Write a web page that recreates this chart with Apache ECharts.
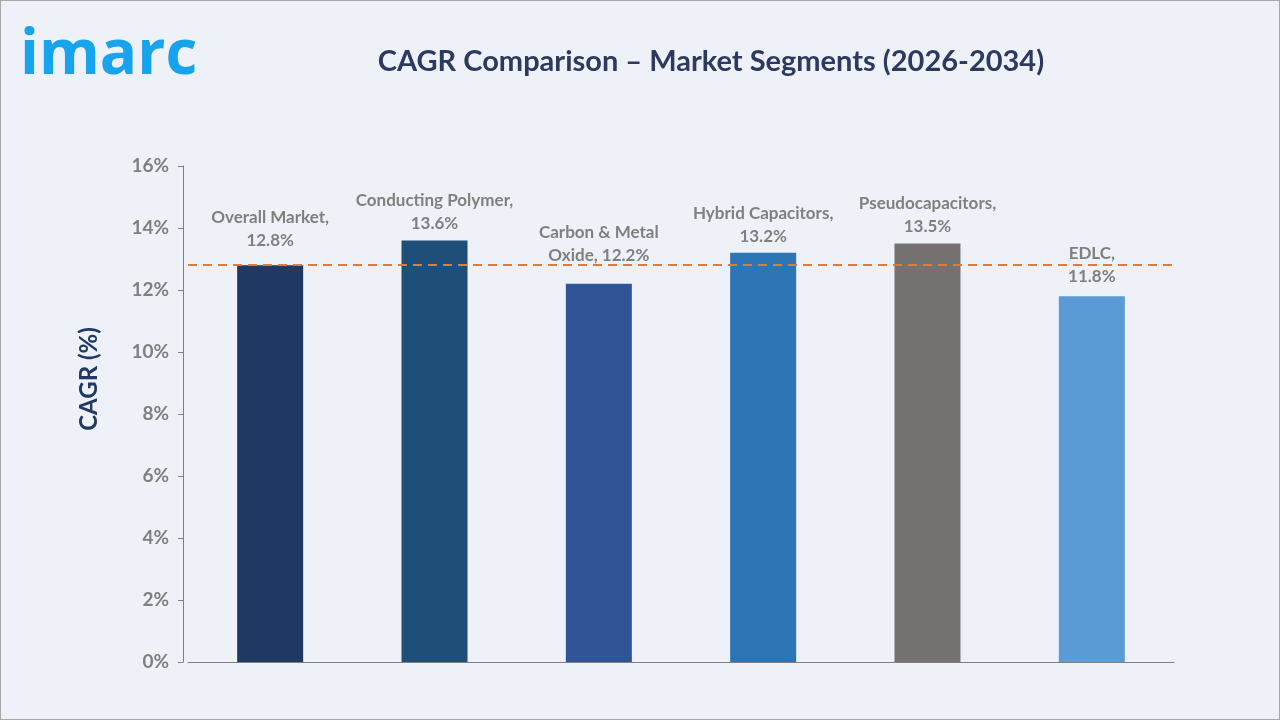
<!DOCTYPE html>
<html>
<head>
<meta charset="utf-8">
<script src="https://cdn.jsdelivr.net/npm/echarts@6/dist/echarts.min.js"></script>
<style>
html,body{margin:0;padding:0;background:#eef2f8;}
#main{width:1278px;height:718px;border:1px solid #a6a6a6;}
</style>
</head>
<body>
<div id="main"></div>
<script>
// data
var categories = ['Overall Market', 'Conducting Polymer', 'Carbon & Metal Oxide', 'Hybrid Capacitors', 'Pseudocapacitors', 'EDLC'];
var labelTexts = ['Overall Market,', 'Conducting Polymer,', 'Carbon & Metal\nOxide,', 'Hybrid Capacitors,', 'Pseudocapacitors,', 'EDLC,'];
var cagrValues = [12.8, 13.6, 12.2, 13.2, 13.5, 11.8];
var barColors = ['#203864', '#1f4e79', '#2f5597', '#2e75b6', '#767171', '#5b9bd5'];
var labelGaps = [13, 5, 17, 5, 5, 8];   // labels lifted to clear the dashed line
var overallLine = 12.8;

var myChart = echarts.init(document.getElementById('main'));

var barData = [];
for (var i = 0; i < cagrValues.length; i++) {
	barData.push({
		value: cagrValues[i],
		itemStyle: {color: barColors[i]},
		label: {
			distance: labelGaps[i],
			formatter: (function(idx){
				return function(p){
					// carbon wraps differently
					if (idx == 2) return labelTexts[idx] + ' ' + p.value.toFixed(1) + '%';
					return labelTexts[idx] + '\n' + p.value.toFixed(1) + '%';
				};
			})(i)
		}
	});
}

var option = {
	backgroundColor: '#eef2f8',
	textStyle: {fontFamily: 'Lato'},
	title: {
		text: 'CAGR Comparison – Market Segments (2026-2034)',
		left: 705,
		textAlign: 'center',
		top: 41,
		textStyle: {
			color: '#2b3a5e',
			fontFamily: 'Lato',
			fontWeight: 'bold',
			fontSize: 29
		}
	},
	graphic: [
		{
			type: 'text',
			left: 19,
			top: 24,
			style: {
				text: 'imarc',
				fill: '#18a4ec',
				font: 'bold 62px "Open Sans"'
			}
		},
		{
			type: 'text',
			x: 88,
			y: 378,
			rotation: Math.PI / 2,
			style: {
				text: 'CAGR (%)',
				fill: '#1f3864',
				font: 'bold 24px Lato',
				align: 'center',
				verticalAlign: 'middle'
			}
		}
	],
	grid: {
		left: 187,
		right: 105,
		top: 165,
		bottom: 57
	},
	xAxis: {
		type: 'category',
		data: categories,
		axisLabel: {show: false},
		axisTick: {show: false},
		axisLine: {lineStyle: {color: '#808080', width: 1}}
	},
	yAxis: {
		type: 'value',
		min: 0,
		max: 16,
		interval: 2,
		offset: 5,
		splitLine: {show: false},
		axisLine: {show: true, lineStyle: {color: '#808080'}},
		axisTick: {show: true, length: 5, lineStyle: {color: '#808080'}},
		axisLabel: {
			color: '#7f7f7f',
			fontFamily: 'Lato',
			fontWeight: 'bold',
			fontSize: 19,
			margin: 14,
			formatter: function(v){ return v + '%'; }
		}
	},
	series: [
		{
			type: 'bar',
			data: barData,
			barWidth: 66,
			label: {
				show: true,
				position: 'top',
				color: '#7f7f7f',
				fontFamily: 'Lato',
				fontWeight: 'bold',
				fontSize: 17,
				lineHeight: 23
			},
			markLine: {
				silent: true,
				symbol: 'none',
				label: {show: false},
				lineStyle: {color: '#e07b39', type: [9, 6], width: 2},
				data: [{yAxis: overallLine}]
			}
		}
	]
};

myChart.setOption(option);
</script>
</body>
</html>
